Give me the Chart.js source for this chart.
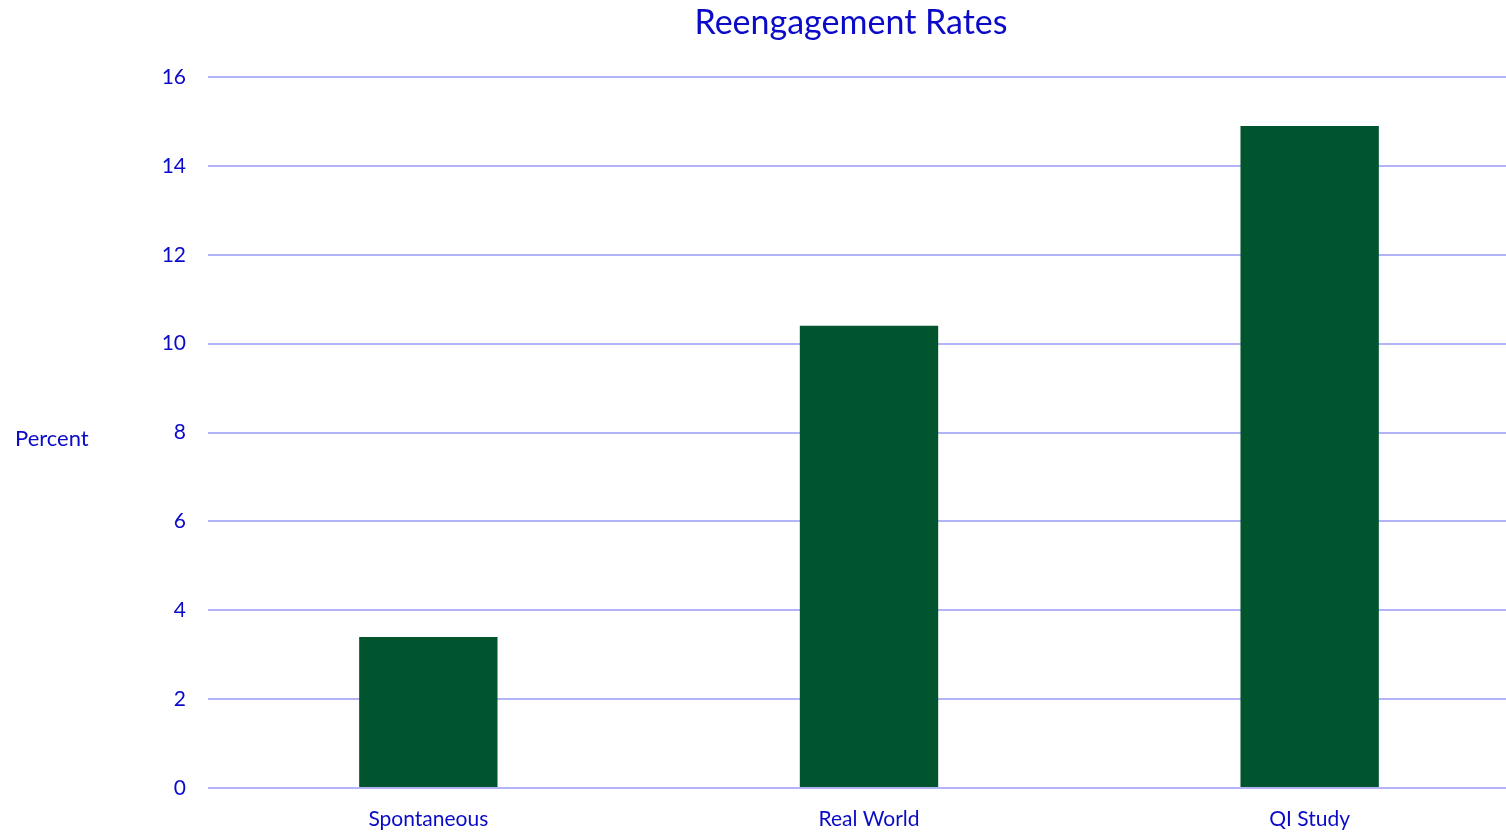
<!DOCTYPE html>
<html lang="en">
<head>
  <meta charset="UTF-8">
  <title>Reengagement Rates</title>
  <script src="https://cdn.jsdelivr.net/npm/chart.js"></script>
  <style>
    html, body { margin: 0; padding: 0; overflow: hidden; background: #fff; }
    .chart-box { width: 1530px; height: 833px; }
  </style>
</head>
<body>
<div class="chart-box">
  <canvas id="rates"></canvas>
</div>
<script>
const categories = ["Spontaneous", "Real World", "QI Study"];
const percentValues = [3.4, 10.4, 14.9];
const yTicks = [0, 2, 4, 6, 8, 10, 12, 14, 16];

const textBlue = "#0a0ac8";
const fontFamily = "Lato, 'Open Sans', sans-serif";

// title and horizontal y-axis label drawn by hand
const labelsPlugin = {
  id: "labels",
  afterDraw(chart) {
    const ctx = chart.ctx;
    const area = chart.chartArea;
    ctx.save();
    ctx.fillStyle = textBlue;
    ctx.textBaseline = "middle";
    ctx.textAlign = "center";
    ctx.font = "34px " + fontFamily;
    ctx.fillText("Reengagement Rates", 851, 23);
    ctx.textAlign = "left";
    ctx.font = "22px " + fontFamily;
    ctx.fillText("Percent", 15, (area.top + area.bottom) / 2 + 6);
    ctx.restore();
  }
};

new Chart(document.getElementById("rates"), {
  type: "bar",
  data: {
    labels: categories,
    datasets: [{
      label: "Percent",
      data: percentValues,
      backgroundColor: "#00552e",
      barPercentage: 0.314,
      categoryPercentage: 1
    }]
  },
  options: {
    responsive: true,
    maintainAspectRatio: false,
    animation: false,
    layout: { padding: { top: 77, left: 0, right: 0, bottom: 0 } },
    plugins: {
      legend: { display: false },
      title: { display: false },
      tooltip: { enabled: false }
    },
    scales: {
      x: {
        grid: { display: false },
        border: { display: false },
        ticks: { color: textBlue, font: { family: fontFamily, size: 21 }, padding: 11 },
        afterFit(scale) { scale.height = 45; }
      },
      y: {
        min: 0,
        max: 16,
        afterBuildTicks(scale) { scale.ticks = yTicks.map(v => ({ value: v })); },
        grid: { color: "#b3b3f7", lineWidth: 2, drawTicks: false },
        border: { display: false },
        ticks: { color: textBlue, font: { family: fontFamily, size: 21 }, padding: 22 },
        afterFit(scale) { scale.width = 208; }
      }
    }
  },
  plugins: [labelsPlugin]
});
</script>
</body>
</html>
